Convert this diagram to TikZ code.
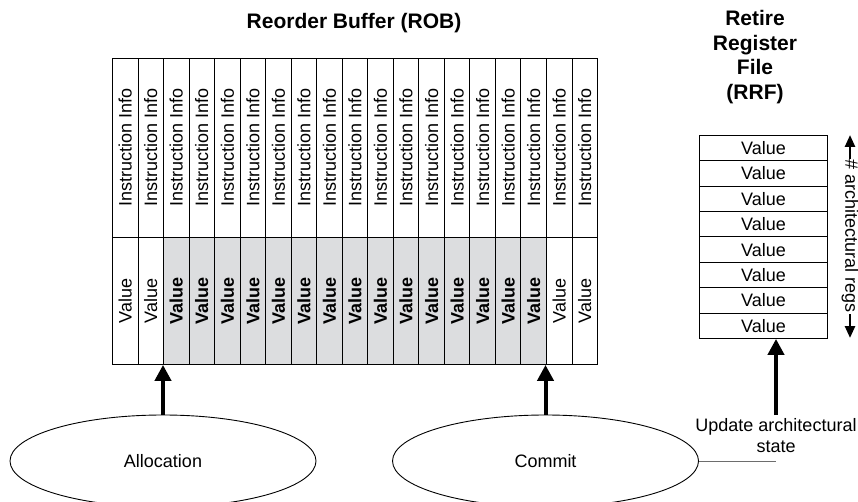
\documentclass[tikz,border=0pt]{standalone}
\usepackage{fontspec}
\setmainfont{Liberation Sans}
\usetikzlibrary{arrows.meta,shapes.geometric}
\definecolor{robGray}{HTML}{DCDDDF}
\definecolor{leadGray}{HTML}{6D6D6D}

\begin{document}
\begin{tikzpicture}[x=1pt,y=-1pt]
  \tikzset{
    cell/.style={draw,line width=0.9pt,inner sep=0pt,font=\fontsize{18}{21}\selectfont},
    infocell/.style={cell,anchor=north west,minimum width=25.53pt,minimum height=179pt},
    valcell/.style={cell,anchor=north west,minimum width=25.53pt,minimum height=127pt},
    busycell/.style={valcell,fill=robGray,font=\fontsize{18}{21}\selectfont\bfseries},
    regcell/.style={cell,anchor=north west,minimum width=128pt,minimum height=25.375pt},
    stage/.style={draw,ellipse,line width=0.9pt,inner sep=0pt,minimum width=306pt,minimum height=92pt,font=\fontsize{18}{21}\selectfont},
    title/.style={align=center,font=\fontsize{21}{24.5}\selectfont\bfseries},
    bigarrow/.style={line width=4pt,-{Triangle[width=16pt,length=16pt]}},
    regarrow/.style={line width=2.5pt,{Triangle[width=10pt,length=12pt]}-{Triangle[width=10pt,length=12pt]}}
  }
  \useasboundingbox (0,0) rectangle (858,502);

  % reorder buffer
  \node[title] (robtitle) at (354,23) {Reorder Buffer (ROB)};
  \foreach \i in {1,...,19}
    {\node[infocell] (i\i) at ({112+(\i-1)*25.53},58) {\rotatebox{90}{Instruction Info}};}
  \foreach \i in {1,2,18,19}
    {\node[valcell] (v\i) at ({112+(\i-1)*25.53},237) {\rotatebox{90}{Value}};}
  \foreach \i in {3,...,17}
    {\node[busycell] (v\i) at ({112+(\i-1)*25.53},237) {\rotatebox{90}{Value}};}

  % retire register file
  \node[title] (rrftitle) at (755,57) {Retire\\Register\\File\\(RRF)};
  \foreach \j in {1,...,8}
    {\node[regcell] (r\j) at (699,{135+(\j-1)*25.375}) {Value};}
  \coordinate (regtop) at (850,135);
  \coordinate (regbot) at (850,338);
  \draw[regarrow] (regtop) -- (regbot)
    node[midway,fill=white,inner sep=1pt,rotate=-90,font=\fontsize{18}{21}\selectfont] (regs) {\# architectural regs};

  % pipeline stages
  \node[stage] (alloc) at (163,461) {Allocation};
  \node[stage] (commit) at (545.5,461) {Commit};
  \node[align=center,inner sep=3pt,font=\fontsize{18}{21}\selectfont] (upd) at (776,435.5) {Update architectural\\state};

  \draw[bigarrow] (alloc.north) -- (alloc.north |- v2.south);
  \draw[bigarrow] (commit.north) -- (commit.north |- v17.south);
  \draw[bigarrow] (upd.north) -- (upd.north |- r8.south);
  \draw[leadGray,line width=0.7pt] (commit.east) -- (commit.east -| upd.center);
\end{tikzpicture}
\end{document}
